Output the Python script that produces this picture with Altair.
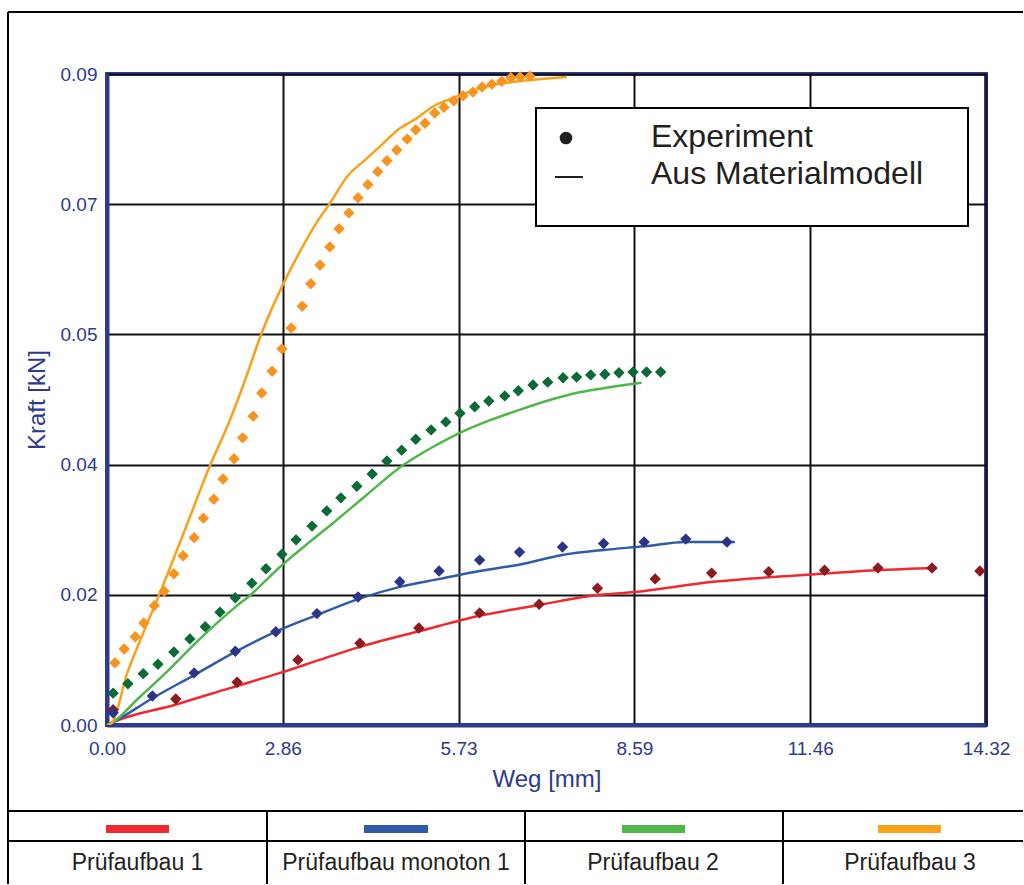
import altair as alt
import pandas as pd

# ---------------- data ----------------
red_exp_x = [0.10, 1.12, 2.12, 3.11, 4.12, 5.08, 6.07, 7.04, 7.99, 8.93, 9.85, 10.78, 11.69, 12.56, 13.44, 14.22]
red_exp_y = [0.0021, 0.0036, 0.0059, 0.0090, 0.0113, 0.0134, 0.0155, 0.0167, 0.0189, 0.0202, 0.0210, 0.0212, 0.0214, 0.0217, 0.0217, 0.0213]
red_mod_x = [0, 0.10, 1.11, 2.00, 2.82, 3.50, 4.12, 5.10, 6.07, 7.04, 8.03, 8.60, 9.87, 11.29, 12.54, 13.52]
red_mod_y = [0, 0.0004, 0.0028, 0.0051, 0.0072, 0.0091, 0.0108, 0.0130, 0.0151, 0.0166, 0.0180, 0.0184, 0.0198, 0.0207, 0.0214, 0.0217]

blue_exp_x = [0.10, 0.74, 1.42, 2.09, 2.75, 3.42, 4.09, 4.77, 5.41, 6.07, 6.72, 7.42, 8.09, 8.75, 9.43, 10.10]
blue_exp_y = [0.0017, 0.0040, 0.0072, 0.0102, 0.0129, 0.0154, 0.0177, 0.0198, 0.0213, 0.0228, 0.0239, 0.0246, 0.0251, 0.0253, 0.0257, 0.0253]
blue_mod_x = [0, 0.10, 0.74, 1.42, 2.09, 2.75, 3.42, 4.09, 4.77, 5.42, 6.07, 6.73, 7.42, 8.09, 8.75, 9.43, 10.23]
blue_mod_y = [0, 0.0004, 0.0037, 0.0069, 0.0101, 0.0129, 0.0152, 0.0174, 0.0191, 0.0202, 0.0213, 0.0222, 0.0235, 0.0242, 0.0247, 0.0253, 0.0253]

green_exp_x = [0.10, 0.34, 0.59, 0.83, 1.09, 1.35, 1.60, 1.84, 2.09, 2.36, 2.59, 2.85, 3.08, 3.34, 3.58, 3.81, 4.07, 4.32, 4.56,
               4.80, 5.03, 5.28, 5.52, 5.75, 5.99, 6.22, 6.48, 6.70, 6.94, 7.18, 7.43, 7.65, 7.88, 8.11, 8.34, 8.57, 8.79, 9.02]
green_exp_y = [0.0044, 0.0057, 0.0071, 0.0084, 0.0101, 0.0119, 0.0136, 0.0156, 0.0176, 0.0196, 0.0216, 0.0236, 0.0256, 0.0275,
               0.0296, 0.0314, 0.0330, 0.0347, 0.0365, 0.0380, 0.0395, 0.0408, 0.0419, 0.0431, 0.0440, 0.0448, 0.0455, 0.0462,
               0.0470, 0.0474, 0.0480, 0.0481, 0.0484, 0.0485, 0.0487, 0.0488, 0.0488, 0.0488]
green_mod_x = [0, 0.08, 0.50, 0.97, 1.50, 2.09, 2.30, 2.85, 3.30, 3.68, 4.20, 4.82, 5.30, 5.75, 6.20, 6.73, 7.20, 7.70, 8.19, 8.71]
green_mod_y = [0, 0.0003, 0.0036, 0.0073, 0.0118, 0.0163, 0.0177, 0.0221, 0.0253, 0.0279, 0.0316, 0.0359, 0.0384, 0.0404,
               0.0420, 0.0436, 0.0449, 0.0460, 0.0467, 0.0473]

orange_exp_x = [0.13, 0.28, 0.46, 0.60, 0.77, 0.93, 1.09, 1.24, 1.42, 1.57, 1.74, 1.89, 2.07, 2.21, 2.38, 2.52, 2.69, 2.85,
                3.00, 3.18, 3.32, 3.47, 3.63, 3.78, 3.94, 4.09, 4.25, 4.41, 4.56, 4.72, 4.89, 5.03, 5.18, 5.34, 5.49, 5.65,
                5.80, 5.96, 6.11, 6.27, 6.43, 6.58, 6.73, 6.89]
orange_exp_y = [0.0086, 0.0105, 0.0122, 0.0141, 0.0165, 0.0185, 0.0209, 0.0234, 0.0259, 0.0286, 0.0312, 0.0340, 0.0368,
                0.0397, 0.0427, 0.0459, 0.0489, 0.0520, 0.0549, 0.0579, 0.0610, 0.0636, 0.0661, 0.0686, 0.0708, 0.0729,
                0.0747, 0.0765, 0.0780, 0.0795, 0.0810, 0.0823, 0.0832, 0.0846, 0.0854, 0.0863, 0.0870, 0.0875, 0.0882,
                0.0886, 0.0890, 0.0895, 0.0896, 0.0897]
orange_mod_x = [0, 0.08, 0.33, 0.59, 0.86, 1.27, 1.68, 2.00, 2.25, 2.52, 2.85, 3.14, 3.44, 3.63, 3.91, 4.23, 4.50, 4.74,
                5.05, 5.31, 5.64, 5.96, 6.29, 6.61, 6.94, 7.49]
orange_mod_y = [0, 0.0003, 0.0072, 0.0127, 0.0182, 0.0270, 0.0359, 0.0421, 0.0477, 0.0542, 0.0606, 0.0654, 0.0698, 0.0721,
                0.0758, 0.0783, 0.0804, 0.0823, 0.0839, 0.0855, 0.0867, 0.0877, 0.0885, 0.0889, 0.0892, 0.0896]

setups = ["Prüfaufbau 1", "Prüfaufbau monoton 1", "Prüfaufbau 2", "Prüfaufbau 3"]
line_colors = ["#EE2A2F", "#2F5BA8", "#4DB848", "#F9A11B"]
point_colors = ["#8C1A1E", "#2A3587", "#0B6A36", "#F7931E"]

x_ticks = [0, 2.864, 5.728, 8.592, 11.456, 14.32]
y_ticks = [0, 0.018, 0.036, 0.054, 0.072, 0.09]

legend_labels = ["Experiment", "Aus Materialmodell"]

# ---------------- tables ----------------
exp_sets = [(red_exp_x, red_exp_y), (blue_exp_x, blue_exp_y), (green_exp_x, green_exp_y), (orange_exp_x, orange_exp_y)]
mod_sets = [(red_mod_x, red_mod_y), (blue_mod_x, blue_mod_y), (green_mod_x, green_mod_y), (orange_mod_x, orange_mod_y)]

exp_rows, mod_rows = [], []
for name, (xs, ys) in zip(setups, exp_sets):
    for i, (a, b) in enumerate(zip(xs, ys)):
        exp_rows.append({"setup": name, "weg": a, "kraft": b, "i": i})
for name, (xs, ys) in zip(setups, mod_sets):
    for i, (a, b) in enumerate(zip(xs, ys)):
        mod_rows.append({"setup": name, "weg": a, "kraft": b, "i": i})
exp_df = pd.DataFrame(exp_rows)
mod_df = pd.DataFrame(mod_rows)

NAVY = "#2E3A8C"
INK = "#231F20"
FONT = "Liberation Sans"

W, H = 879, 651
X = alt.X("weg:Q", scale=alt.Scale(domain=[0, 14.32], nice=False, zero=False),
          axis=alt.Axis(values=x_ticks, format=".2f", title="Weg [mm]", labelPadding=14, titlePadding=9))
Y = alt.Y("kraft:Q", scale=alt.Scale(domain=[0, 0.09], nice=False, zero=False),
          axis=alt.Axis(values=y_ticks, format=".2f", title="Kraft [kN]", labelPadding=10, titlePadding=11))

lines = alt.Chart(mod_df).mark_line(strokeWidth=2.5, clip=True, interpolate="monotone").encode(
    x=X, y=Y,
    color=alt.Color("setup:N", scale=alt.Scale(domain=setups, range=line_colors), legend=None),
    order="i:Q",
)
points = alt.Chart(exp_df).mark_point(shape="diamond", filled=True, size=130, opacity=1).encode(
    x="weg:Q", y="kraft:Q",
    fill=alt.Fill("setup:N", scale=alt.Scale(domain=setups, range=point_colors), legend=None),
)

one = pd.DataFrame({"k": [0]})


def rule(x1, x2, y1, y2, color="black", width=2):
    return alt.Chart(one).mark_rule(color=color, strokeWidth=width).encode(
        x=alt.value(x1), x2=alt.value(x2), y=alt.value(y1), y2=alt.value(y2))


def box(x1, x2, y1, y2, fill, stroke=None, sw=0):
    kw = dict(fill=fill, strokeWidth=sw)
    if stroke:
        kw["stroke"] = stroke
    return alt.Chart(one).mark_rect(**kw).encode(
        x=alt.value(x1), x2=alt.value(x2), y=alt.value(y1), y2=alt.value(y2))


def label(txt, x, y, size, align="left", baseline="alphabetic", color=INK):
    return alt.Chart(one).mark_text(text=txt, align=align, baseline=baseline, fontSize=size,
                                    font=FONT, color=color).encode(x=alt.value(x), y=alt.value(y))


# inner legend
legend_layers = [
    box(429, 861, 34, 152, "white", "black", 2),
    alt.Chart(one).mark_point(shape="circle", filled=True, size=160, color=INK, opacity=1).encode(
        x=alt.value(459), y=alt.value(64)),
    rule(448, 476, 103, 103, INK, 2),
    label(legend_labels[0], 544, 73, 32),
    label(legend_labels[1], 544, 110, 32),
]

# outer frame and bottom table
L, R = -99, 916
frame_layers = [
    rule(L, R, -62, -62),
    rule(L, L, -62, 810),
    rule(L, R, 737, 737),
    rule(L, R, 767, 767),
    rule(160, 160, 737, 810),
    rule(418, 418, 737, 810),
    rule(676, 676, 737, 810),
]
sw_x = [(-1, 62), (257, 321), (515, 578), (771, 834)]
lab_x = [30.5, 289, 546, 803]
table_layers = []
for (a, b), c, name, lx in zip(sw_x, line_colors, setups, lab_x):
    table_layers.append(box(a, b, 751, 759, c))
    table_layers.append(label(name, lx, 789, 23, align="center", baseline="middle"))

chart = alt.layer(lines, points, *legend_layers, *frame_layers, *table_layers).resolve_scale(
    color="independent", fill="independent"
).properties(
    width=W, height=H,
    autosize=alt.AutoSizeParams(type="none"),
    padding={"left": 107, "top": 74, "right": 37, "bottom": 159},
    background="white",
).configure_view(
    stroke=NAVY, strokeWidth=4
).configure_axis(
    domainColor=NAVY, domainWidth=4, ticks=False, grid=True, gridColor="#111111", gridWidth=2,
    labelColor=NAVY, labelFont=FONT, labelFontSize=19, labelFlush=False, labelOverlap=False,
    titleColor=NAVY, titleFont=FONT, titleFontSize=24, titleFontWeight="normal",
)

chart.save("out.html", embed_options={"renderer": "svg", "actions": False})
